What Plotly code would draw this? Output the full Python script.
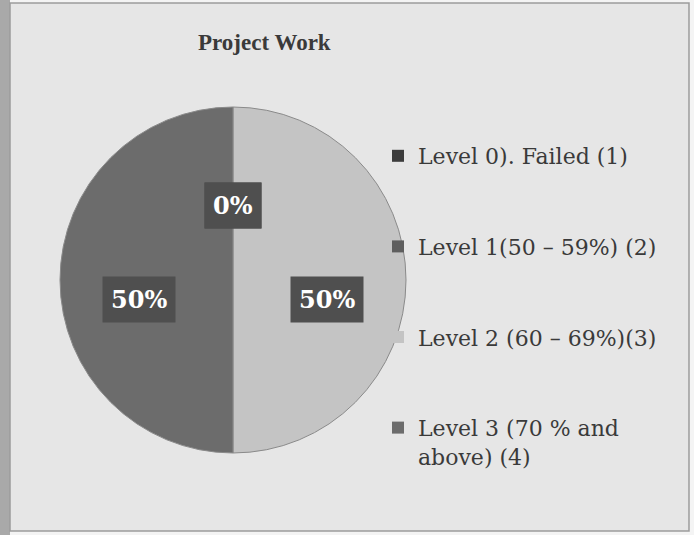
import math
import plotly.graph_objects as go

# data
levels = ["Level 0). Failed (1)", "Level 1(50 – 59%) (2)",
          "Level 2 (60 – 69%)(3)", "Level 3 (70 % and<br>above) (4)"]
counts = [0, 0, 1, 1]
colors = ["#3c3c3c", "#5e5e5e", "#c4c4c4", "#6c6c6c"]
title_text = "Project Work"

W, H = 694, 535
cx, cy, R = 233, 280, 173  # pie centre / radius in pixels (from top-left)

fig = go.Figure()

# pie: slices in order, starting at 12 o'clock going clockwise
fig.add_trace(go.Pie(
    labels=levels, values=counts, sort=False, direction="clockwise", rotation=0,
    marker=dict(colors=colors, line=dict(color="#8a8a8a", width=1)),
    textinfo="none", hoverinfo="label+percent", showlegend=False,
    domain=dict(x=[(cx - R) / W, (cx + R) / W],
                y=[1 - (cy + R) / H, 1 - (cy - R) / H]),
))

# legend entries (separate traces so the gap between items can be set)
for lab, col in zip(levels, colors):
    fig.add_trace(go.Scatter(
        x=[None], y=[None], mode="markers", name=lab, legendgroup=lab,
        marker=dict(symbol="square", size=12, color=col),
    ))

# percentage labels, placed at the middle angle of each slice
total = sum(counts)
start = 0.0
for v in counts:
    frac = v / total
    mid = (start + frac / 2) * 2 * math.pi
    start += frac
    r = 0.43 * R if v == 0 else 0.545 * R
    px = cx + r * math.sin(mid)
    py = cy - r * math.cos(mid) + (0 if v == 0 else 0.115 * R)
    fig.add_annotation(
        x=px / W, y=1 - py / H, xref="paper", yref="paper",
        xanchor="center", yanchor="middle",
        text="<b>{:.0f}%</b>".format(frac * 100), showarrow=False,
        font=dict(family="DejaVu Serif", size=24, color="white"),
        bgcolor="#4f4f4f", borderpad=8,
    )

fig.add_annotation(
    x=264 / W, y=1 - 42 / H, xref="paper", yref="paper", showarrow=False,
    xanchor="center", yanchor="middle",
    text="<b>" + title_text + "</b>",
    font=dict(family="Liberation Serif", size=23, color="#3a3a3a"),
)

# scanned page frame
fig.add_shape(type="rect", xref="paper", yref="paper", x0=0, x1=10 / W, y0=0, y1=1,
              fillcolor="#a9a9a9", line=dict(width=0), layer="below")
fig.add_shape(type="rect", xref="paper", yref="paper",
              x0=10 / W, x1=689 / W, y0=1 - 531 / H, y1=1 - 3 / H,
              fillcolor="#e6e6e6", line=dict(color="#9c9c9c", width=1.5), layer="below")

fig.update_layout(
    width=W, height=H, margin=dict(l=0, r=0, t=0, b=0),
    paper_bgcolor="#f4f4f4", plot_bgcolor="rgba(0,0,0,0)",
    xaxis=dict(visible=False), yaxis=dict(visible=False),
    legend=dict(x=378 / W, y=1 - 135 / H, xanchor="left", yanchor="top",
                font=dict(family="DejaVu Serif", size=22, color="#3a3a3a"),
                bgcolor="rgba(0,0,0,0)", tracegroupgap=59, valign="top",
                itemwidth=30),
)

fig.write_html("out.html", config={"displayModeBar": False},
               post_script="document.body.style.margin='0';")
